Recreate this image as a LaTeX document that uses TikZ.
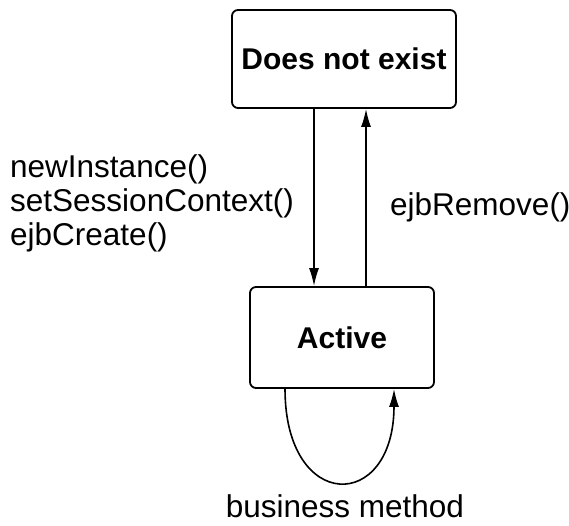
\documentclass[tikz,border=0pt]{standalone}
\usepackage{fontspec}
\setmainfont{Liberation Sans}
\usepackage{tikz}
\usetikzlibrary{arrows.meta, positioning}
\tikzset{
 state/.style={draw, line width=1.8pt, rounded corners=6pt, font=\fontsize{30}{33}\selectfont\bfseries},
 trans/.style={line width=1.6pt, -{Latex[length=18pt,width=10pt]}},
 lbl/.style={font=\fontsize{31.5}{34}\selectfont, inner sep=0pt, align=left}
}

\begin{document}
\begin{tikzpicture}[x=1pt,y=1pt]
 \useasboundingbox (0,0) rectangle (569,526);
 \node[state, minimum width=224pt, minimum height=98pt] (exist) at (344,467) {Does not exist};
 \node[state, minimum width=184pt, minimum height=101pt] (active) at (342,188.5) {Active};

 \draw[trans] ([xshift=-30pt]exist.south) -- ([xshift=-30pt]exist.south |- active.north);
 \draw[trans] ([xshift=22pt]exist.south |- active.north) -- ([xshift=22pt]exist.south);
 \draw[trans] ([xshift=-57pt]active.south) .. controls ++(0,-124) and ++(0,-124) .. ([xshift=52pt]active.south);

 \node[lbl, anchor=west] (create) at (10,323) {newInstance()\\setSessionContext()\\ejbCreate()};
 \node[lbl, anchor=west] (remove) at (390,319) {ejbRemove()};
 \node[lbl, anchor=base] (method) at (345,8) {business method};
\end{tikzpicture}
\end{document}
